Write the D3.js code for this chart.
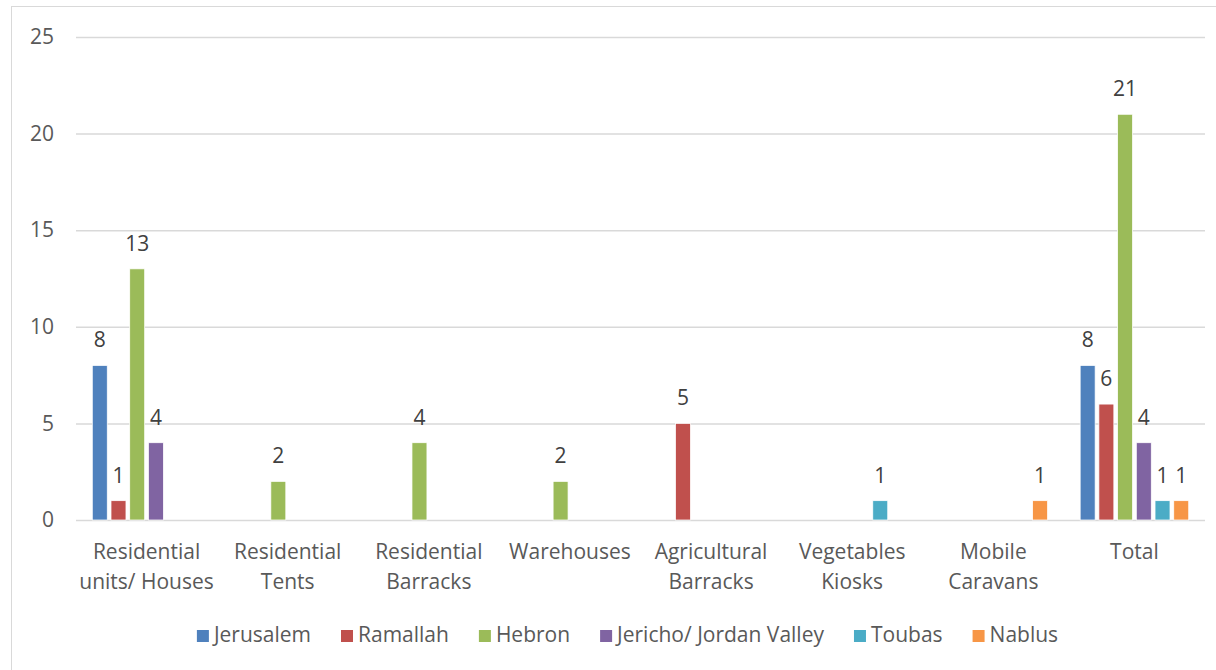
<!DOCTYPE html>
<html>
<head>
<meta charset="utf-8">
<script src="https://cdn.jsdelivr.net/npm/d3@7"></script>
<style>
  body { margin: 0; background: #fff; }
  svg text { font-family: "Open Sans", "Noto Sans", sans-serif; }
</style>
</head>
<body>
<div id="chart"></div>
<script>
// categories along the x axis (each label split over two lines)
var categories = [
  ["Residential", "units/ Houses"],
  ["Residential", "Tents"],
  ["Residential", "Barracks"],
  ["Warehouses"],
  ["Agricultural", "Barracks"],
  ["Vegetables", "Kiosks"],
  ["Mobile", "Caravans"],
  ["Total"]
];

var seriesNames = ["Jerusalem", "Ramallah", "Hebron", "Jericho/ Jordan Valley", "Toubas", "Nablus"];
var seriesColors = ["#4F81BD", "#C0504D", "#9BBB59", "#8064A2", "#4BACC6", "#F79646"];

// one value per category for each governorate (0 = no bar)
var jerusalem = [8, 0, 0, 0, 0, 0, 0, 8];
var ramallah  = [1, 0, 0, 0, 5, 0, 0, 6];
var hebron    = [13, 2, 4, 2, 0, 0, 0, 21];
var jericho   = [4, 0, 0, 0, 0, 0, 0, 4];
var toubas    = [0, 0, 0, 0, 0, 1, 0, 1];
var nablus    = [0, 0, 0, 0, 0, 0, 1, 1];

var yTicks = [0, 5, 10, 15, 20, 25];

var seriesValues = [jerusalem, ramallah, hebron, jericho, toubas, nablus];

var svgWidth = 1216;
var svgHeight = 670;

var margin = { top: 37, right: 11, bottom: 150, left: 76 };
var chartWidth = svgWidth - margin.left - margin.right;
var chartHeight = svgHeight - margin.top - margin.bottom;

var svg = d3.select("#chart")
  .append("svg")
  .attr("width", svgWidth)
  .attr("height", svgHeight);

// outer chart border
svg.append("rect")
  .attr("x", 11.5)
  .attr("y", 6.5)
  .attr("width", 1230)
  .attr("height", 700)
  .attr("fill", "none")
  .attr("stroke", "#d9d9d9")
  .attr("stroke-width", 1);

var chartGroup = svg.append("g")
  .attr("transform", `translate(${margin.left}, ${margin.top})`);

var catIdx = categories.map((c, i) => i);

var x0 = d3.scaleBand()
  .domain(catIdx)
  .range([0, chartWidth]);

var x1 = d3.scaleBand()
  .domain(seriesNames)
  .range([0, x0.bandwidth()])
  .paddingInner(0.2)
  .paddingOuter(0.87);

var yScale = d3.scaleLinear()
  .domain([0, 25])
  .range([chartHeight, 0]);

// gridlines + y labels
var leftAxis = d3.axisLeft(yScale)
  .tickValues(yTicks)
  .tickSize(-chartWidth)
  .tickPadding(22);

var yAxis = chartGroup.append("g").call(leftAxis);
yAxis.select(".domain").remove();
yAxis.selectAll("line")
  .attr("stroke", "#d9d9d9")
  .attr("stroke-width", 1.5);
yAxis.selectAll("text")
  .attr("fill", "#595959")
  .attr("font-size", "21px")
  .style("font-family", "'Open Sans', sans-serif");

// x category labels
var xLabels = chartGroup.append("g")
  .attr("transform", `translate(0, ${chartHeight})`);

categories.forEach(function(lines, i) {
  var t = xLabels.append("text")
    .attr("x", x0(i) + x0.bandwidth() / 2)
    .attr("y", 39)
    .attr("text-anchor", "middle")
    .attr("font-size", "21px")
    .attr("fill", "#595959");
  lines.forEach(function(line, j) {
    t.append("tspan")
      .attr("x", x0(i) + x0.bandwidth() / 2)
      .attr("dy", j == 0 ? 0 : 30)
      .text(line);
  });
});

// bars
var barData = [];
seriesNames.forEach(function(name, s) {
  seriesValues[s].forEach(function(v, i) {
    if (v > 0) barData.push({ series: name, color: seriesColors[s], cat: i, value: v });
  });
});

chartGroup.selectAll(".bar")
  .data(barData)
  .enter()
  .append("rect")
  .attr("class", "bar")
  .attr("x", d => x0(d.cat) + x1(d.series))
  .attr("y", d => yScale(d.value))
  .attr("width", x1.bandwidth())
  .attr("height", d => chartHeight - yScale(d.value))
  .attr("fill", d => d.color)
  .attr("stroke", "#ffffff")
  .attr("stroke-width", 0.75);

chartGroup.selectAll(".barlabel")
  .data(barData)
  .enter()
  .append("text")
  .attr("class", "barlabel")
  .attr("x", d => x0(d.cat) + x1(d.series) + x1.bandwidth() / 2)
  .attr("y", d => yScale(d.value) - 18)
  .attr("text-anchor", "middle")
  .attr("font-size", "21px")
  .attr("fill", "#404040")
  .text(d => d.value);

// legend, centred under the plot
var legend = svg.append("g");
var cursor = 0;
seriesNames.forEach(function(name, s) {
  var g = legend.append("g");
  g.append("rect")
    .attr("x", 0)
    .attr("y", -12)
    .attr("width", 12)
    .attr("height", 12)
    .attr("fill", seriesColors[s]);
  var t = g.append("text")
    .attr("x", 17)
    .attr("y", 0)
    .attr("font-size", "21px")
    .attr("fill", "#595959")
    .text(name);
  var w = 17 + t.node().getComputedTextLength();
  g.attr("transform", `translate(${cursor}, 0)`);
  cursor += w + 30;
});
var legendWidth = cursor - 30;
legend.attr("transform", `translate(${627.5 - legendWidth / 2}, 642)`);
</script>
</body>
</html>
